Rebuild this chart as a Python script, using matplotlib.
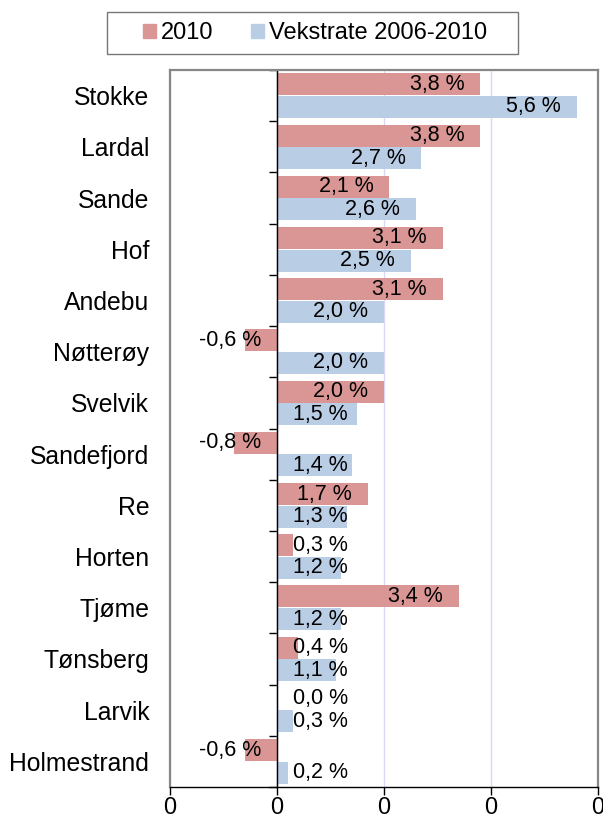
import matplotlib.pyplot as plt
import numpy as np
from matplotlib.patches import Patch, Rectangle

plt.rcParams['font.family'] = ['Liberation Sans', 'DejaVu Sans']

kommuner = ['Stokke', 'Lardal', 'Sande', 'Hof', 'Andebu', 'Nøtterøy', 'Svelvik',
            'Sandefjord', 'Re', 'Horten', 'Tjøme', 'Tønsberg', 'Larvik', 'Holmestrand']
vekst_2010 = [3.8, 3.8, 2.1, 3.1, 3.1, -0.6, 2.0, -0.8, 1.7, 0.3, 3.4, 0.4, 0.0, -0.6]
vekstrate_0610 = [5.6, 2.7, 2.6, 2.5, 2.0, 2.0, 1.5, 1.4, 1.3, 1.2, 1.2, 1.1, 0.3, 0.2]
xticks = [-2, 0, 2, 4, 6]
xtick_labels = ['0', '0', '0', '0', '0']

red = '#D99694'
blue = '#B9CDE5'

fig = plt.figure(figsize=(6.03, 8.19), dpi=100)
ax = fig.add_axes([170 / 603, 1 - 787 / 819, 428 / 603, 717 / 819])

y = np.arange(len(kommuner))
h = 0.43
ax.barh(y - 0.22, vekst_2010, height=h, color=red, zorder=2)
ax.barh(y + 0.22, vekstrate_0610, height=h, color=blue, zorder=2)
ax.axvline(0, color='black', lw=1, zorder=2.5)


def fmt(v):
    return '{:.1f} %'.format(v).replace('.', ',')


def put_label(v, yy):
    if v < 0:
        ax.text(-0.3, yy, fmt(v), ha='right', va='center', fontsize=15.5, zorder=3)
    elif v < 1.62:
        ax.text(0.3, yy, fmt(v), ha='left', va='center', fontsize=15.5, zorder=3)
    else:
        ax.text(v - 0.3, yy, fmt(v), ha='right', va='center', fontsize=15.5, zorder=3)


for i in range(len(kommuner)):
    put_label(vekst_2010[i], i - 0.22)
    put_label(vekstrate_0610[i], i + 0.22)

ax.set_xlim(-2, 6)
ax.set_ylim(len(kommuner) - 0.5, -0.5)

ax.set_xticks(xticks)
ax.set_xticklabels(xtick_labels, fontsize=17)
ax.tick_params(axis='x', direction='out', length=6, width=1, pad=1)
ax.set_yticks(y)
ax.set_yticklabels(kommuner, fontsize=17.8)
ax.tick_params(axis='y', length=0, pad=15)

ax.set_axisbelow(True)
ax.grid(axis='x', color='#D9D9F5', lw=1, zorder=0)

for s in ['left', 'top', 'right']:
    ax.spines[s].set_color('#888888')
    ax.spines[s].set_linewidth(1.6)
ax.spines['bottom'].set_color('black')
ax.spines['bottom'].set_linewidth(1)

# group separator ticks on the zero line
sec = ax.secondary_yaxis(0.25)
sec.set_yticks(np.arange(-0.5, len(kommuner), 1.0))
sec.set_yticklabels([])
sec.tick_params(direction='out', length=6, width=1, color='black')

handles = [Patch(color=red, label='2010'), Patch(color=blue, label='Vekstrate 2006-2010')]
fig.legend(handles=handles, loc='center', bbox_to_anchor=(315 / 603, 1 - 33 / 819),
           ncol=2, fontsize=17, frameon=False, handlelength=0.55,
           handleheight=0.55, handletextpad=0.2, columnspacing=1.6,
           borderpad=0.45, borderaxespad=0)
fig.patches.append(Rectangle((107 / 603, 1 - 54 / 819), 411 / 603, 42 / 819,
                             transform=fig.transFigure, fill=False,
                             edgecolor='#777777', lw=1))

fig.savefig('out.png', dpi=100)
